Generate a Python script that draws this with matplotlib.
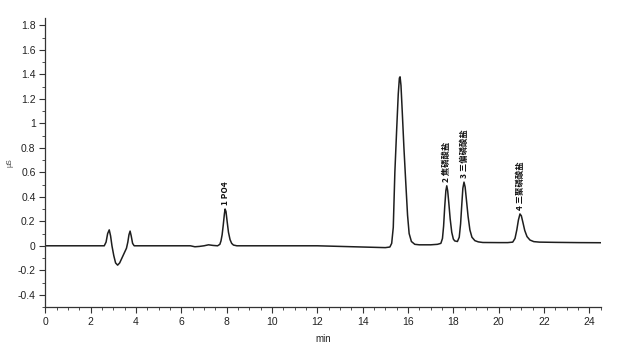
import matplotlib
matplotlib.use("Agg")
import matplotlib.pyplot as plt
from matplotlib.ticker import MultipleLocator

# chromatogram trace (time in min, signal)
time_min = [0.0, 2.6, 2.68, 2.75, 2.82, 2.88, 2.94, 3.02, 3.1, 3.19, 3.28, 3.38, 3.48,
            3.58, 3.64, 3.69, 3.74, 3.79, 3.85, 3.92, 5.0, 6.4, 6.6, 6.8, 7.0, 7.2, 7.4,
            7.6, 7.7, 7.75, 7.8, 7.85, 7.9, 7.93, 7.97, 8.02, 8.08, 8.15, 8.22, 8.3, 8.45,
            10.0, 12.0, 13.0, 14.0, 15.0, 15.2, 15.28, 15.35, 15.42, 15.5, 15.57, 15.62,
            15.65, 15.69, 15.75, 15.82, 15.9, 15.98, 16.05, 16.15, 16.3, 16.5, 17.0,
            17.3, 17.45, 17.52, 17.57, 17.62, 17.67, 17.71, 17.75, 17.8, 17.86, 17.93,
            18.0, 18.06, 18.18, 18.26, 18.32, 18.37, 18.42, 18.47, 18.52, 18.58, 18.65,
            18.73, 18.82, 18.95, 19.1, 19.3, 20.0, 20.4, 20.62, 20.72, 20.8, 20.87,
            20.94, 21.0, 21.07, 21.15, 21.25, 21.38, 21.55, 21.8, 22.5, 23.5, 24.5]
signal = [0.0, 0.0, 0.03, 0.10, 0.13, 0.08, 0.0, -0.08, -0.14, -0.158, -0.14, -0.10, -0.06,
          -0.02, 0.03, 0.09, 0.12, 0.08, 0.02, 0.0, 0.0, 0.0, -0.008, -0.005, 0.0, 0.008, 0.003,
          0.0, 0.012, 0.04, 0.09, 0.17, 0.26, 0.30, 0.28, 0.20, 0.11, 0.05, 0.02, 0.006, 0.0,
          0.0, 0.0, -0.005, -0.01, -0.015, -0.01, 0.02, 0.15, 0.60, 0.95, 1.24, 1.37,
          1.38, 1.31, 1.08, 0.80, 0.52, 0.25, 0.10, 0.035, 0.012, 0.008, 0.008,
          0.012, 0.02, 0.06, 0.16, 0.32, 0.45, 0.49, 0.45, 0.35, 0.22, 0.11,
          0.055, 0.04, 0.035, 0.07, 0.18, 0.33, 0.47, 0.52, 0.48, 0.37, 0.24,
          0.13, 0.07, 0.042, 0.032, 0.027, 0.026, 0.026, 0.03, 0.06, 0.13, 0.21,
          0.26, 0.245, 0.19, 0.125, 0.075, 0.047, 0.034, 0.03, 0.028, 0.026, 0.025]

peak_times = [7.93, 17.71, 18.47, 20.94]
peak_heights = [0.30, 0.49, 0.52, 0.26]
peak_labels = ["1 PO4", "2 焦磷酸盐", "3 三偏磷酸盐", "4 三聚磷酸盐"]

x_ticks = list(range(0, 25, 2))
y_ticks = [-0.4, -0.2, 0, 0.2, 0.4, 0.6, 0.8, 1, 1.2, 1.4, 1.6, 1.8]
y_tick_labels = ["-0.4", "-0.2", "0", "0.2", "0.4", "0.6", "0.8", "1", "1.2", "1.4", "1.6", "1.8"]

plt.rcParams['font.family'] = ['Liberation Sans', 'Noto Sans CJK SC', 'DejaVu Sans']

fig = plt.figure(figsize=(6.25, 3.49), dpi=100)
ax = fig.add_axes([0.0725, 0.1203, 0.8886, 0.828])

ax.plot(time_min, signal, color="#1e1e1e", lw=1.1)

for t, h, lab in zip(peak_times, peak_heights, peak_labels):
    ax.text(t, h + 0.03, lab, rotation=90, ha="center", va="bottom", fontsize=6,
            color="#111111", fontweight="bold", family=['Noto Sans CJK SC', 'DejaVu Sans'])

ax.set_xlim(0, 24.5)
ax.set_ylim(-0.5, 1.86)
ax.set_xticks(x_ticks)
ax.set_yticks(y_ticks)
ax.set_yticklabels(y_tick_labels)
ax.xaxis.set_minor_locator(MultipleLocator(0.5))
ax.yaxis.set_minor_locator(MultipleLocator(0.1))

for s in ["top", "right"]:
    ax.spines[s].set_visible(False)
for s in ["left", "bottom"]:
    ax.spines[s].set_color("#333333")
    ax.spines[s].set_linewidth(0.9)

ax.tick_params(axis="both", which="major", length=4, width=0.8, color="#333333",
               labelsize=7.5, labelcolor="#222222", pad=3)
ax.tick_params(axis="both", which="minor", length=2, width=0.6, color="#333333")

ax.set_xlabel("min", fontsize=7, color="#222222", labelpad=5)
ax.set_ylabel("μS", fontsize=5, color="#444444", labelpad=3)

fig.savefig("out.png", dpi=100, facecolor="white")
